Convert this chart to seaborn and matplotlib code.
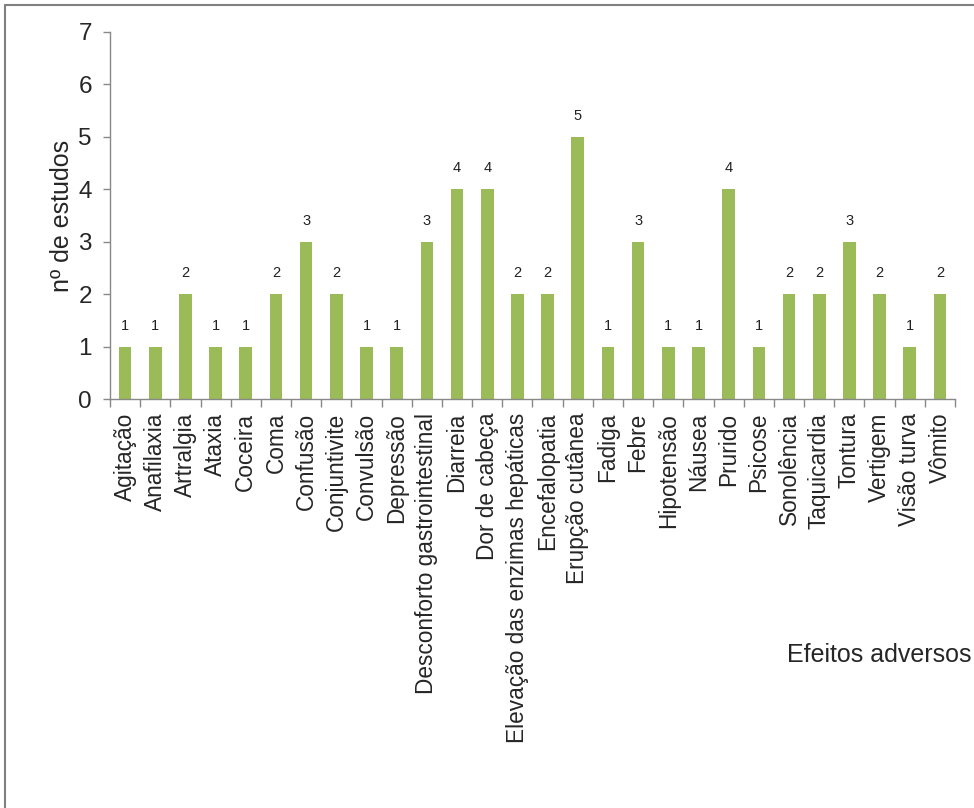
import matplotlib
matplotlib.use("Agg")
import matplotlib.pyplot as plt
import seaborn as sns
import pandas as pd
import numpy as np
from matplotlib.lines import Line2D

categories = ["Agitação", "Anafilaxia", "Artralgia", "Ataxia", "Coceira", "Coma",
              "Confusão", "Conjuntivite", "Convulsão", "Depressão",
              "Desconforto gastrointestinal", "Diarreia", "Dor de cabeça",
              "Elevação das enzimas hepáticas", "Encefalopatia", "Erupção cutânea",
              "Fadiga", "Febre", "Hipotensão", "Náusea", "Prurido", "Psicose",
              "Sonolência", "Taquicardia", "Tontura", "Vertigem", "Visão turva", "Vômito"]
values = [1, 1, 2, 1, 1, 2, 3, 2, 1, 1, 3, 4, 4, 2, 2, 5, 1, 3, 1, 1, 4, 1, 2, 2, 3, 2, 1, 2]
y_ticks = [0, 1, 2, 3, 4, 5, 6, 7]

sns.set_style("white")
plt.rcParams['font.family'] = ['Liberation Sans', 'DejaVu Sans']

df = pd.DataFrame({"efeito": categories, "n": values})

fig = plt.figure(figsize=(9.74, 8.08), dpi=100)
ax = fig.add_axes([110/974, 1-399/808, (955-110)/974, (399-32)/808])

sns.barplot(data=df, x="efeito", y="n", color="#9BBB59", saturation=1,
            width=0.42, ax=ax, edgecolor="none")

for i, v in enumerate(values):
    ax.annotate(str(v), (i, v), xytext=(0, 10), textcoords="offset points",
                ha="center", va="bottom", fontsize=10.5, color="#222222")

ax.set_ylim(0, 7)
ax.set_xlim(-0.5, len(categories) - 0.5)
ax.set_yticks(y_ticks)
ax.tick_params(axis="y", labelsize=17.5, length=5, width=1, color="#888888",
               pad=8, direction="out", left=True)
ax.set_xticks(range(len(categories)))
ax.set_xticklabels(categories, rotation=90, fontsize=16.3)
ax.tick_params(axis="x", which="major", length=0, pad=10, bottom=True)
ax.set_xticks(np.arange(-0.5, len(categories), 1.0), minor=True)
ax.tick_params(axis="x", which="minor", length=6, width=1, color="#888888",
               direction="out", bottom=True)

for s in ["top", "right"]:
    ax.spines[s].set_visible(False)
for s in ["left", "bottom"]:
    ax.spines[s].set_color("#888888")
    ax.spines[s].set_linewidth(1)

ax.set_xlabel("")
ax.set_ylabel("nº de estudos", fontsize=18, labelpad=3)

fig.text(0.997, 1 - 655/808, "Efeitos adversos", ha="right", va="center", fontsize=18)

# outer border (cropped frame)
fig.add_artist(Line2D([4.5/974, 4.5/974], [0, 1 - 5/808], transform=fig.transFigure,
                      color="#808080", lw=1.5))
fig.add_artist(Line2D([4.5/974, 1], [1 - 5/808, 1 - 5/808], transform=fig.transFigure,
                      color="#808080", lw=1.5))

fig.savefig("out.png", dpi=100)
